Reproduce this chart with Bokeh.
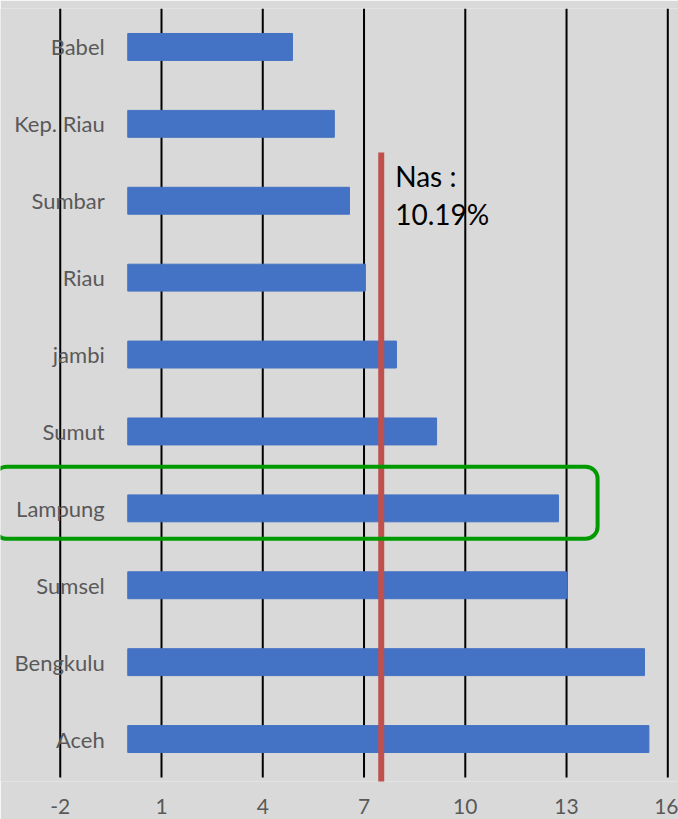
from bokeh.plotting import figure
from bokeh.models import Range1d, FixedTicker, BoxAnnotation, ColumnDataSource, PrintfTickFormatter
from bokeh.core.properties import value
from bokeh.embed import file_html
from bokeh.resources import INLINE

# ---- data ----
provinces = ["Babel", "Kep. Riau", "Sumbar", "Riau", "jambi", "Sumut",
             "Lampung", "Sumsel", "Bengkulu", "Aceh"]
rates = [4.88, 6.12, 6.57, 7.04, 7.96, 9.15, 12.76, 13.00, 15.31, 15.44]
x_ticks = [-2, 1, 4, 7, 10, 13, 16]
nas_value = 7.51
nas_text = ["Nas :", "10.19%"]
highlight = "Lampung"

# ---- styling ----
BG = "#d9d9d9"
BAR = "#4472c4"
LABEL = "#595959"
FONT = "Lato"

n = len(provinces)
ypos = [n - 1 - i for i in range(n)]

p = figure(width=678, height=819, output_backend="svg", toolbar_location=None,
           x_range=Range1d(-3.77, 16.317), y_range=Range1d(-0.552, n - 0.5),
           y_axis_location=None, min_border_left=0, min_border_right=0,
           min_border_top=8, min_border_bottom=38)
p.background_fill_color = BG
p.border_fill_color = BG
p.outline_line_color = None
p.grid.visible = False

# vertical gridlines
p.segment(x0=x_ticks, x1=x_ticks, y0=[-0.5] * len(x_ticks),
          y1=[n - 0.5] * len(x_ticks), line_color="black", line_width=2)

# bars
p.hbar(y=ypos, left=0, right=rates, height=0.35, fill_color=BAR, line_color=BAR)

# category labels
p.text(x=[0] * n, y=ypos, text=provinces, x_offset=-23, text_align="right",
       text_baseline="middle", text_font=value(FONT), text_font_size="22px",
       text_color=LABEL)

# national line
nas_top = 7.627
p.segment(x0=[nas_value], x1=[nas_value], y0=[-0.7], y1=[nas_top],
          line_color="#c0504d", line_width=6)
src = ColumnDataSource(dict(x=[nas_value] * 2, y=[nas_top] * 2, t=nas_text,
                            yo=[23, 61]))
p.text(x="x", y="y", text="t", source=src, x_offset=14, y_offset="yo",
       text_align="left", text_baseline="alphabetic", text_font=value(FONT),
       text_font_size="28px", text_color="black")

# highlight box
hy = ypos[provinces.index(highlight)]
p.add_layout(BoxAnnotation(left=-3.95, right=13.92, bottom=hy - 0.396, top=hy + 0.542,
                           fill_alpha=0, line_color="#009a00", line_alpha=1.0,
                           line_width=4, border_radius=12))

# x axis
ax = p.xaxis[0]
ax.ticker = FixedTicker(ticks=x_ticks)
ax.formatter = PrintfTickFormatter(format="%d")
ax.axis_line_color = None
ax.major_tick_line_color = None
ax.minor_tick_line_color = None
ax.major_tick_out = 0
ax.major_tick_in = 0
ax.major_label_standoff = 17
ax.major_label_text_font = FONT
ax.major_label_text_font_size = "21px"
ax.major_label_text_color = LABEL

open("out.html", "w").write(file_html(p, INLINE))
